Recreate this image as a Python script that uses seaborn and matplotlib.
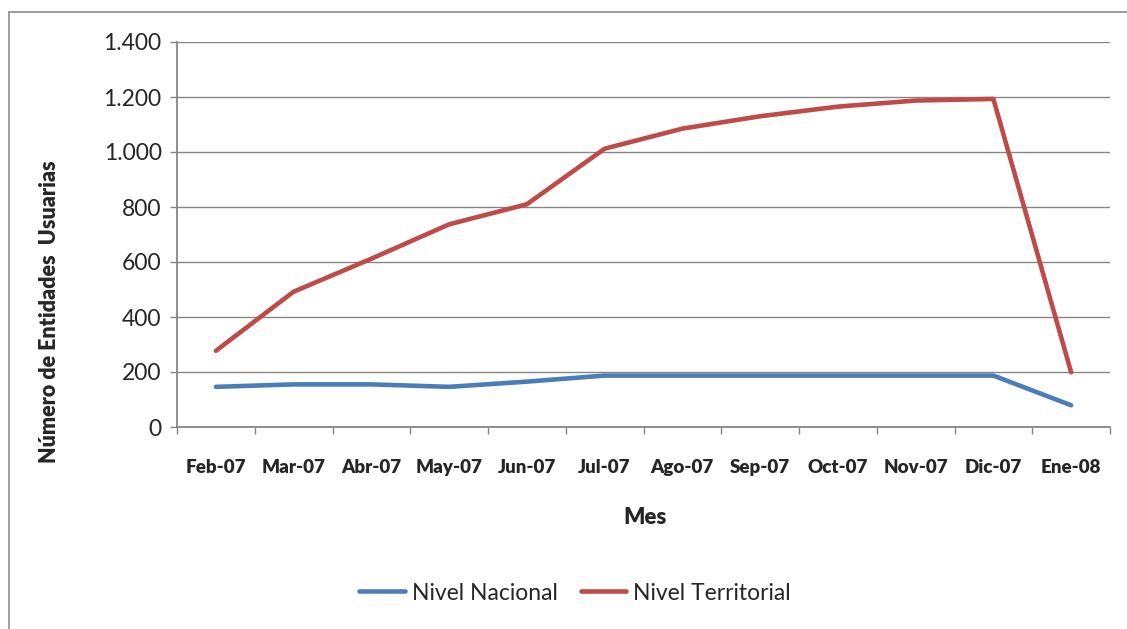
import matplotlib
matplotlib.use('Agg')
import matplotlib.pyplot as plt
from matplotlib.lines import Line2D
from matplotlib.ticker import FixedLocator, FuncFormatter
import numpy as np
import pandas as pd
import seaborn as sns

# -------------------------------------------------------
# Data
# -------------------------------------------------------
meses = ["Feb-07", "Mar-07", "Abr-07", "May-07", "Jun-07", "Jul-07",
         "Ago-07", "Sep-07", "Oct-07", "Nov-07", "Dic-07", "Ene-08"]
nivel_nacional = [146, 155, 155, 146, 165, 187, 187, 187, 187, 187, 187, 79]
nivel_territorial = [277, 492, 612, 737, 810, 1012, 1085, 1130, 1165, 1187, 1193, 199]
series_names = ["Nivel Nacional", "Nivel Territorial"]
series_colors = ["#4A7EBB", "#BE4B48"]
y_ticks = [0, 200, 400, 600, 800, 1000, 1200, 1400]

df = pd.DataFrame({
    "Mes": meses * 2,
    "Valor": nivel_nacional + nivel_territorial,
    "Serie": [series_names[0]] * len(meses) + [series_names[1]] * len(meses),
})

# -------------------------------------------------------
# Style
# -------------------------------------------------------
sns.set_style("white")
plt.rcParams['font.family'] = ['Lato', 'DejaVu Sans']
grid_col = '#868686'
bold_w = 'heavy'

fig = plt.figure(figsize=(11.27, 6.29), dpi=100)
ax = fig.add_axes([177 / 1127, 1 - 427 / 629, (1110 - 177) / 1127, (427 - 42) / 629])

sns.lineplot(data=df, x="Mes", y="Valor", hue="Serie", hue_order=series_names,
             palette=series_colors, linewidth=3.3, sort=False, ax=ax)
for ln in ax.lines:
    ln.set_solid_capstyle('round')
    ln.set_solid_joinstyle('round')

# axes / grid
ax.set_xlim(-0.5, len(meses) - 0.5)
ax.set_ylim(0, 1400)
ax.yaxis.set_major_locator(FixedLocator(y_ticks))
ax.yaxis.set_major_formatter(FuncFormatter(lambda v, p: f"{v:,.0f}".replace(",", ".")))
ax.grid(axis='y', color=grid_col, linewidth=1.0)
ax.set_axisbelow(True)
for s in ['top', 'right']:
    ax.spines[s].set_visible(False)
for s in ['left', 'bottom']:
    ax.spines[s].set_color(grid_col)
    ax.spines[s].set_linewidth(1.3)

ax.tick_params(axis='y', direction='out', length=5, width=1.0, color=grid_col,
               labelsize=16.5, pad=6, left=True)
ax.set_xticks(range(len(meses)))
ax.set_xticklabels(meses, fontweight=bold_w, fontsize=13.5)
ax.tick_params(axis='x', which='major', length=0, pad=23)
ax.set_xticks(np.arange(-0.5, len(meses), 1.0), minor=True)
ax.tick_params(axis='x', which='minor', direction='out', length=5, width=1.0,
               color=grid_col, bottom=True)

ax.set_xlabel("")
ax.set_ylabel("")
fig.text(645 / 1127, 1 - 518 / 629, "Mes", ha='center', va='center',
         fontsize=16, fontweight=bold_w)
fig.text(50 / 1127, 1 - 312 / 629, "Número de Entidades  Usuarias", rotation=90,
         ha='center', va='center', fontsize=15.5, fontweight=bold_w)

# legend at bottom
handles, labels = ax.get_legend_handles_labels()
ax.get_legend().remove()
leg = fig.legend(handles, labels, loc='center', bbox_to_anchor=(575 / 1127, 1 - 593 / 629),
                 ncol=2, frameon=False, fontsize=16.5, handlelength=2.0,
                 handletextpad=0.3, columnspacing=1.0)
for h in leg.get_lines():
    h.set_linewidth(3.3)
    h.set_solid_capstyle('round')

# outer chart border (top and left visible)
fig.add_artist(Line2D([9 / 1127, 9 / 1127], [0, 1 - 12 / 629], transform=fig.transFigure,
                      color='#8C8C8C', linewidth=1.2))
fig.add_artist(Line2D([9 / 1127, 1], [1 - 12 / 629, 1 - 12 / 629], transform=fig.transFigure,
                      color='#8C8C8C', linewidth=1.2))

fig.savefig('out.png', dpi=100)
plt.close(fig)
